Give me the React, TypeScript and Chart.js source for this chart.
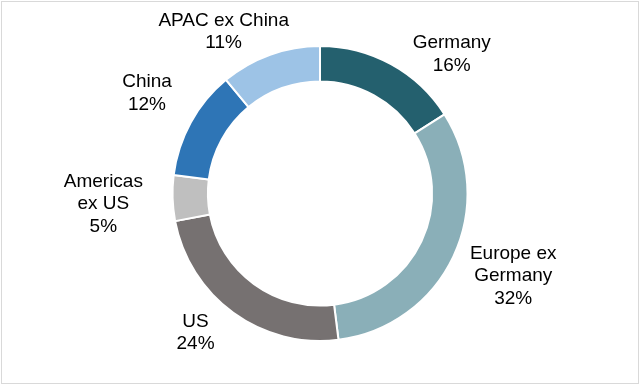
import React, { useEffect, useRef } from "react";
import { Chart, registerables } from "chart.js";

Chart.register(...registerables);

const categories = ["Germany", "Europe ex Germany", "US", "Americas ex US", "China", "APAC ex China"];
const values = [16, 32, 24, 5, 12, 11];
const labelLines = [["Germany"], ["Europe ex", "Germany"], ["US"], ["Americas", "ex US"], ["China"], ["APAC ex China"]];
const colors = ["#24606E", "#8AAFB8", "#767171", "#BFBFBF", "#2E75B6", "#9DC3E6"];
// label block centre relative to ring centre, in units of the outer radius
const labelOffsets = [
  [0.893, -0.949],
  [1.31, 0.553],
  [-0.844, 0.937],
  [-1.469, 0.065],
  [-1.173, -0.687],
  [-0.653, -1.103],
];

const FONT = "19px Arial, 'Liberation Sans', sans-serif";
const LINE_H = 22.8;

const labelPlugin = {
  id: "outsideLabels",
  afterDraw(chart: any) {
    const ctx = chart.ctx;
    const meta = chart.getDatasetMeta(0);
    const total = values.reduce((a, b) => a + b, 0);
    ctx.save();
    ctx.font = FONT;
    ctx.fillStyle = "#000000";
    ctx.textAlign = "center";
    ctx.textBaseline = "middle";
    meta.data.forEach((arc: any, i: number) => {
      const { x, y, outerRadius } = arc.getProps(["x", "y", "outerRadius"], true);
      const lines = [...labelLines[i], Math.round((values[i] / total) * 100) + "%"];
      const cx = x + labelOffsets[i][0] * outerRadius;
      const cy = y + labelOffsets[i][1] * outerRadius;
      const top = cy - ((lines.length - 1) * LINE_H) / 2;
      lines.forEach((t, j) => ctx.fillText(t, cx, top + j * LINE_H + 1));
    });
    // outer frame
    ctx.strokeStyle = "#D9D9D9";
    ctx.lineWidth = 1;
    ctx.strokeRect(1.5, 1.5, chart.width - 3, chart.height - 4);
    ctx.restore();
  },
};

export default function App() {
  const ref = useRef<HTMLCanvasElement | null>(null);
  useEffect(() => {
    document.body.style.margin = "0";
    const chart = new Chart(ref.current as HTMLCanvasElement, {
      type: "doughnut",
      data: {
        labels: categories,
        datasets: [
          {
            data: values,
            backgroundColor: colors,
            borderColor: "#FFFFFF",
            borderWidth: 2,
          },
        ],
      },
      options: {
        responsive: false,
        animation: false,
        cutout: "76%",
        layout: { padding: { top: 45, bottom: 44, left: 0, right: 0 } },
        plugins: { legend: { display: false }, tooltip: { enabled: false } },
      },
      plugins: [labelPlugin],
    });
    return () => chart.destroy();
  }, []);
  return (
    <div style={{ position: "absolute", left: 0, top: 0, width: 640, height: 386, background: "#fff" }}>
      <canvas ref={ref} width={640} height={386} style={{ display: "block" }} />
    </div>
  );
}
